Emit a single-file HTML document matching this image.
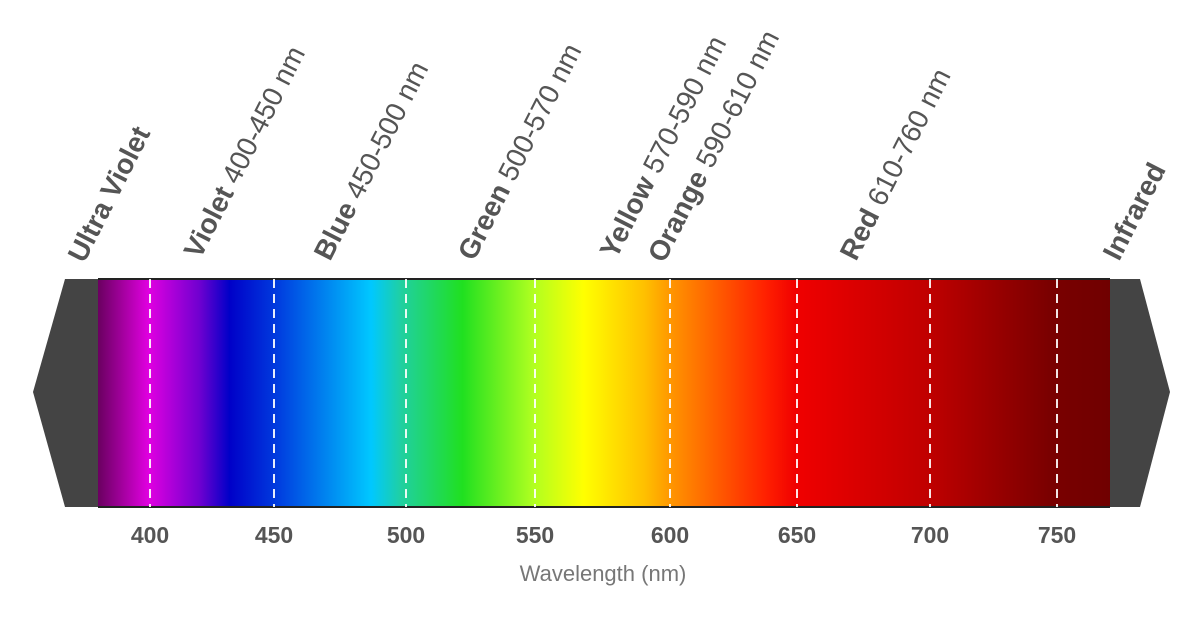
<!DOCTYPE html>
<html><head><style>body{margin:0;background:#fff}svg{display:block}</style></head><body>
<svg width="1200" height="641" viewBox="0 0 1200 641" xmlns="http://www.w3.org/2000/svg" font-family="Liberation Sans, sans-serif">
<defs>
<linearGradient id="g" x1="98" x2="1110" y1="0" y2="0" gradientUnits="userSpaceOnUse">
<stop offset="0" stop-color="#6a0060"/>
<stop offset="0.05" stop-color="#e000e0"/>
<stop offset="0.1" stop-color="#7000d0"/>
<stop offset="0.13" stop-color="#0000c8"/>
<stop offset="0.18" stop-color="#0040e0"/>
<stop offset="0.27" stop-color="#00c8ff"/>
<stop offset="0.3" stop-color="#20d0a0"/>
<stop offset="0.36" stop-color="#20e020"/>
<stop offset="0.43" stop-color="#b0ff20"/>
<stop offset="0.48" stop-color="#ffff00"/>
<stop offset="0.54" stop-color="#ffc000"/>
<stop offset="0.57" stop-color="#ff9000"/>
<stop offset="0.66" stop-color="#ff2000"/>
<stop offset="0.69" stop-color="#f00000"/>
<stop offset="0.82" stop-color="#c00000"/>
<stop offset="0.94" stop-color="#7a0000"/>
<stop offset="1" stop-color="#700000"/>
</linearGradient>
</defs>
<polygon points="65,279 98,279 98,507 65,507 33,392" fill="#444"/>
<polygon points="1110,279 1140,279 1170,392 1140,507 1110,507" fill="#444"/>
<rect x="98" y="279" width="1012" height="228" fill="url(#g)"/>
<line x1="98" y1="279" x2="1110" y2="279" stroke="#222" stroke-width="2"/>
<line x1="98" y1="507" x2="1110" y2="507" stroke="#222" stroke-width="2"/>
<g stroke="#fff" stroke-width="2" stroke-dasharray="9,6" opacity="0.9">
<line x1="150" y1="279" x2="150" y2="507"/><line x1="274" y1="279" x2="274" y2="507"/>
<line x1="406" y1="279" x2="406" y2="507"/><line x1="535" y1="279" x2="535" y2="507"/>
<line x1="670" y1="279" x2="670" y2="507"/><line x1="797" y1="279" x2="797" y2="507"/>
<line x1="930" y1="279" x2="930" y2="507"/><line x1="1057" y1="279" x2="1057" y2="507"/>
</g>
<g fill="#555" font-size="23" font-weight="bold" text-anchor="middle">
<text x="150" y="543">400</text><text x="274" y="543">450</text><text x="406" y="543">500</text>
<text x="535" y="543">550</text><text x="670" y="543">600</text><text x="797" y="543">650</text>
<text x="930" y="543">700</text><text x="1057" y="543">750</text>
</g>
<text x="603" y="581" fill="#777" font-size="22" text-anchor="middle">Wavelength (nm)</text>
<g fill="#555" font-size="28">
<text transform="translate(84,264) rotate(-63)"><tspan font-weight="bold">Ultra Violet</tspan></text>
<text transform="translate(200,260) rotate(-63)"><tspan font-weight="bold">Violet</tspan> 400-450 nm</text>
<text transform="translate(330,262) rotate(-63)"><tspan font-weight="bold">Blue</tspan> 450-500 nm</text>
<text transform="translate(474,262) rotate(-63)"><tspan font-weight="bold">Green</tspan> 500-570 nm</text>
<text transform="translate(616,260) rotate(-63)"><tspan font-weight="bold">Yellow</tspan> 570-590 nm</text>
<text transform="translate(664,264) rotate(-63)"><tspan font-weight="bold">Orange</tspan> 590-610 nm</text>
<text transform="translate(856,262) rotate(-63)"><tspan font-weight="bold">Red</tspan> 610-760 nm</text>
<text transform="translate(1119,262) rotate(-63)"><tspan font-weight="bold">Infrared</tspan></text>
</g>
</svg>
</body></html>
